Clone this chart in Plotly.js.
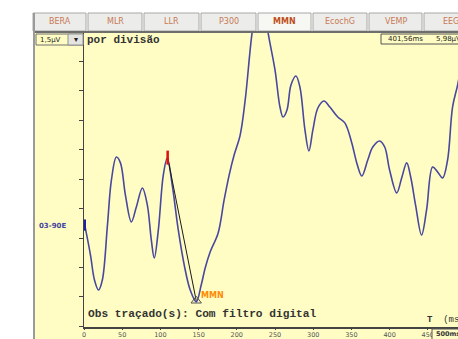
<!DOCTYPE html>
<html><head><meta charset="utf-8">
<script src="https://cdn.plot.ly/plotly-3.0.1.min.js"></script>
<style>html,body{margin:0;padding:0;background:#fff;overflow:hidden}</style>
</head><body><div id="chart"></div>
<script>
// waveform (latency in ms, amplitude in µV)
const timeMs = [1, 8.5, 13.7, 19, 24, 30.7, 35.9, 42.4, 47.7, 54.2, 62, 68.5, 76.4, 82.9, 88.1, 92, 97.3, 103.8, 109, 115.5, 123.4, 131.2, 139, 146.9, 153.4, 158.6, 165.1, 175.6, 183.4, 190, 196.5, 204.4, 211, 220, 226, 231, 236, 241, 250, 256.5, 260.5, 265.7, 270.9, 277.4, 282.6, 289.2, 294.4, 299.6, 306.1, 314, 321.8, 332.2, 341.4, 350.5, 357, 363.6, 371.4, 378, 387, 393.6, 400, 409.3, 415.8, 422.4, 427.6, 434, 441.8, 448.4, 456.3, 462.8, 469.3, 475.9, 482.4, 489, 495];
const amplitudeUv = [0.66, -0.87, -2.14, -2.65, -2.14, 0.66, 2.96, 4.13, 3.83, 2.19, 0.82, 1.58, 2.55, 1.68, -0.10, -1.02, 0.41, 3.21, 4.08, 2.70, 0.41, -1.38, -2.65, -3.26, -2.40, -1.53, -0.71, 0.26, 1.94, 3.21, 4.23, 5.25, 7.04, 10.46, 11.8, 12.3, 11.8, 10.46, 8.57, 6.68, 6.17, 6.53, 7.80, 8.26, 7.70, 5.51, 4.44, 5.51, 6.63, 6.99, 6.68, 6.17, 5.87, 4.85, 3.83, 3.16, 3.98, 4.64, 4.95, 4.64, 3.47, 2.30, 3.06, 3.83, 3.11, 1.68, 0.15, 1.43, 3.62, 3.37, 3.06, 3.98, 6.68, 7.80, 9.0];
// markers
const peakMs = [109.5], peakUv = [4.1];
const mmnMs = [146.9], mmnUv = [-3.2];
const startMs = [1], startUv = [0.66];
const tabLabels = ["BERA", "MLR", "LLR", "P300", "MMN", "EcochG", "VEMP", "EEG"];
const activeTab = "MMN";
const xTicks = [0, 50, 100, 150, 200, 250, 300, 350, 400, 450];
const scaleText = "1,5µV", scaleUnit = "por divisão";
const cursorMs = "401,56ms", cursorUv = "5,98µV";
const channelLabel = "03-90E";
const obsText = "Obs traçado(s): Com filtro digital";
const mmnLabel = "MMN";

const W = 458, H = 339, ML = 84, MT = 32, MB = 12, MR = 0;
const PW = W - ML - MR, PH = H - MT - MB;
const px = v => (v - ML) / PW;
const py = v => (H - MB - v) / PH;
const YEL = 'rgb(255,253,196)';

const shapes = [];
const annotations = [];
// white margin left and top
shapes.push({type:'rect', xref:'paper', yref:'paper', x0:px(0), x1:px(33), y0:py(H), y1:py(0), fillcolor:'#fff', line:{width:0}, layer:'below'});
shapes.push({type:'rect', xref:'paper', yref:'paper', x0:px(0), x1:px(W), y0:py(31), y1:py(0), fillcolor:'#fff', line:{width:0}, layer:'below'});
// tabs
const tabEdges = [32, 87, 143, 200, 257, 312, 368, 423, 478];
tabLabels.forEach((t, i) => {
  const a = tabEdges[i], b = tabEdges[i+1];
  const act = t === activeTab;
  shapes.push({type:'rect', xref:'paper', yref:'paper', x0:px(a+1), x1:px(b-1), y0:py(31), y1:py(13),
    fillcolor: act ? '#f7f7f4' : '#ececea', line:{color:'#a8a8a8', width:1}, layer:'below'});
  annotations.push({xref:'paper', yref:'paper', x:px((a+b)/2), y:py(21.5), text: act ? '<b>'+t+'</b>' : t,
    showarrow:false, xanchor:'center', yanchor:'middle',
    font:{family:'DejaVu Sans', size:8, color: act ? '#c0501c' : '#c87a55'}});
});
// bar under tabs and left border
shapes.push({type:'line', xref:'paper', yref:'paper', x0:px(33), x1:px(W), y0:py(32), y1:py(32), line:{color:'#6e6e6e', width:2}});
shapes.push({type:'line', xref:'paper', yref:'paper', x0:px(34), x1:px(34), y0:py(13), y1:py(H), line:{color:'#9a9a9a', width:2}});
// scale box
shapes.push({type:'rect', xref:'paper', yref:'paper', x0:px(36), x1:px(83), y0:py(45), y1:py(34), fillcolor:YEL, line:{color:'#707070', width:1}});
shapes.push({type:'rect', xref:'paper', yref:'paper', x0:px(68), x1:px(83), y0:py(45), y1:py(34), fillcolor:'#e4e4e0', line:{color:'#909090', width:1}});
annotations.push({xref:'paper', yref:'paper', x:px(38), y:py(39.5), text:scaleText, showarrow:false, xanchor:'left', yanchor:'middle', font:{family:'DejaVu Sans', size:7, color:'#222'}});
annotations.push({xref:'paper', yref:'paper', x:px(75.5), y:py(39.5), text:'▾', showarrow:false, xanchor:'center', yanchor:'middle', font:{family:'DejaVu Sans', size:8, color:'#222'}});
annotations.push({xref:'paper', yref:'paper', x:px(85), y:py(39.5), text:'<b>'+scaleUnit+'</b>', showarrow:false, xanchor:'left', yanchor:'middle', font:{family:'Liberation Mono', size:11, color:'#333'}});
// cursor box
shapes.push({type:'rect', xref:'paper', yref:'paper', x0:px(381), x1:px(470), y0:py(44), y1:py(34), fillcolor:YEL, line:{color:'#555', width:1}});
annotations.push({xref:'paper', yref:'paper', x:px(386), y:py(39), text:cursorMs, showarrow:false, xanchor:'left', yanchor:'middle', font:{family:'DejaVu Sans', size:7, color:'#222'}});
annotations.push({xref:'paper', yref:'paper', x:px(434), y:py(39), text:cursorUv, showarrow:false, xanchor:'left', yanchor:'middle', font:{family:'DejaVu Sans', size:7, color:'#222'}});
// channel label
annotations.push({xref:'paper', yref:'paper', x:px(37), y:py(226), text:'<b>'+channelLabel+'</b>', showarrow:false, xanchor:'left', yanchor:'middle', font:{family:'DejaVu Sans', size:7, color:'#4444a0'}});
// obs text
annotations.push({xref:'paper', yref:'paper', x:px(86), y:py(314), text:'<b>'+obsText+'</b>', showarrow:false, xanchor:'left', yanchor:'middle', font:{family:'Liberation Mono', size:11.2, color:'#333'}});
// T (ms
annotations.push({xref:'paper', yref:'paper', x:px(425), y:py(320), text:'<b>T</b>  (ms', showarrow:false, xanchor:'left', yanchor:'middle', font:{family:'Liberation Mono', size:9, color:'#333'}});
// 500ms box
shapes.push({type:'rect', xref:'paper', yref:'paper', x0:px(432), x1:px(470), y0:py(341), y1:py(329), fillcolor:YEL, line:{color:'#555', width:1}});
annotations.push({xref:'paper', yref:'paper', x:px(434), y:py(334), text:'<b>500ms</b>', showarrow:false, xanchor:'left', yanchor:'middle', font:{family:'DejaVu Sans', size:6.5, color:'#333'}});
// MMN label
annotations.push({x:mmnMs[0], y:mmnUv[0], text:'<b>'+mmnLabel+'</b>', showarrow:false, xanchor:'left', yanchor:'middle', xshift:3, yshift:5,
  font:{family:'DejaVu Sans', size:8, color:'#ff8a00'}});

const traces = [
  {x: timeMs, y: amplitudeUv, mode:'lines', line:{color:'#4848a0', width:1.6, shape:'spline', smoothing:1}, hoverinfo:'skip'},
  {x: [peakMs[0], mmnMs[0]], y: [peakUv[0], mmnUv[0]], mode:'lines', line:{color:'#1a1a1a', width:1}, hoverinfo:'skip'},
  {x: peakMs, y: peakUv, mode:'markers', marker:{symbol:'line-ns', size:10, line:{color:'#e01010', width:2.5}}, hoverinfo:'skip'},
  {x: startMs, y: startUv, mode:'markers', marker:{symbol:'line-ns', size:8, line:{color:'#2020a0', width:2.5}}, hoverinfo:'skip'},
  {x: mmnMs, y: mmnUv, mode:'markers', marker:{symbol:'triangle-up-open', size:9, color:'#555', line:{width:1}}, hoverinfo:'skip'}
];

const layout = {
  width: W, height: H,
  margin: {l: ML, r: MR, t: MT, b: MB, pad: 0},
  paper_bgcolor: YEL, plot_bgcolor: 'rgba(0,0,0,0)',
  showlegend: false,
  xaxis: {range: [0, PW / 0.764], tickvals: xTicks, ticktext: xTicks.map(String), ticks: 'outside', ticklen: 1,
    tickcolor: '#444', showline: true, linecolor: '#444', linewidth: 1.5, showgrid: false, zeroline: false,
    tickfont: {family: 'DejaVu Sans', size: 6.5, color: '#555'}, fixedrange: true},
  yaxis: {range: [(238 - 327) * 0.051, (238 - 32) * 0.051], dtick: 1.5, tick0: 0, ticks: 'outside', ticklen: 4,
    tickcolor: '#444', showline: true, linecolor: '#444', linewidth: 1.5, showgrid: false, zeroline: false,
    showticklabels: false, fixedrange: true},
  shapes: shapes, annotations: annotations
};
Plotly.newPlot('chart', traces, layout, {displayModeBar: false, staticPlot: true});
</script></body></html>
